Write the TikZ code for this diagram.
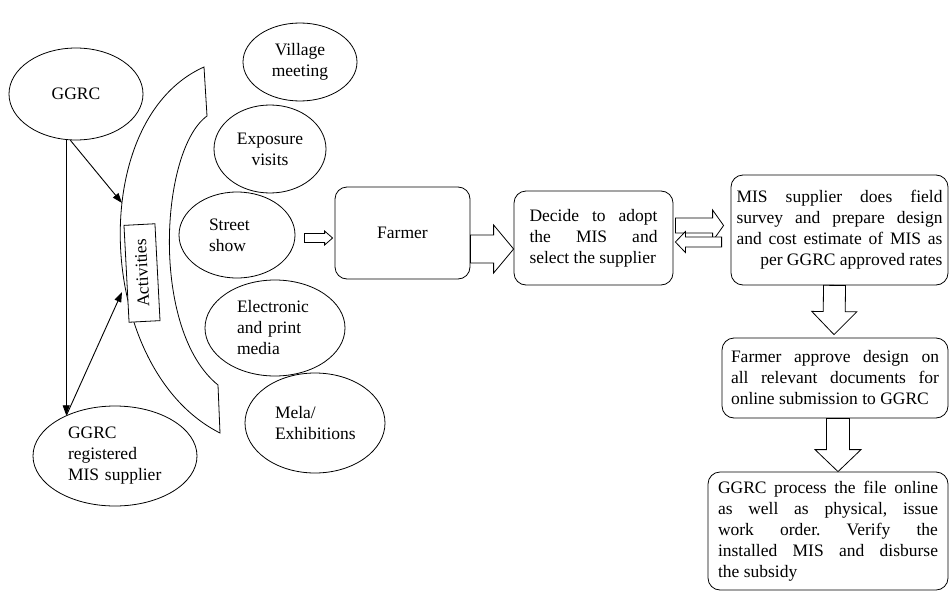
\documentclass[tikz,border=0pt]{standalone}
\usepackage{fontspec}
\setmainfont{Liberation Serif}
\usetikzlibrary{arrows.meta,calc,positioning,shapes.geometric}
\frenchspacing
\hyphenpenalty=10000
\exhyphenpenalty=10000

\tikzset{
  oval/.style={draw, ellipse, inner sep=0pt},
  stepbox/.style={draw, rounded corners=12pt, inner sep=0pt, align=justify},
  blockline/.style={draw, line width=0.8pt, fill=white, line join=miter},
  link/.style={-{Triangle[length=10pt,width=7pt]}, line width=0.9pt},
}
% hollow arrow: from, to, shaft half width, head half width, head length
\newcommand{\blockarrow}[5]{%
  \path (#1) coordinate (ba-s) (#2) coordinate (ba-e)
    ($(ba-e)!#5!(ba-s)$) coordinate (ba-h);
  \draw[blockline] ($(ba-s)!#3!90:(ba-e)$) -- ($(ba-h)!#3!-90:(ba-s)$)
    -- ($(ba-h)!#4!-90:(ba-s)$) -- (ba-e) -- ($(ba-h)!#4!90:(ba-s)$)
    -- ($(ba-h)!#3!90:(ba-s)$) -- ($(ba-s)!#3!-90:(ba-e)$) -- cycle;
}

\begin{document}
\begin{tikzpicture}[x=1pt, y=-1pt, line width=0.8pt,
    font=\fontsize{17.5}{21}\selectfont]
  \useasboundingbox (0,0) rectangle (949,591);

  \node (ggrc) [oval, minimum width=134, minimum height=92] at (76,94) {GGRC};
  \node (reg) [oval, minimum width=164, minimum height=100, text width=94, align=left]
    at (115,456) {GGRC\\registered\\MIS supplier};

  \draw (204,67) -- (207,116) .. controls (160,150) and (150,330) .. (218,385)
    -- (220,433) .. controls (95,370) and (85,120) .. (204,67) -- cycle;
  \node (act) [draw, fill=white, rotate=93, minimum width=97, minimum height=31, inner sep=0pt]
    at (142,273) {Activities};
  \coordinate (act-top) at (122,203);
  \coordinate (act-bot) at (122,292);

  \draw[link] (ggrc.-102) -- (ggrc.-102 |- reg.140);
  \draw[link] (ggrc.-97) -- (act-top);
  \draw[link] (reg.140) -- (act-bot);

  \node (village) [oval, minimum width=114, minimum height=78, align=center]
    at (300,62) {Village\\meeting};
  \node (visits) [oval, minimum width=112, minimum height=88, align=center]
    at (270,149) {Exposure\\visits};
  \node (show) [oval, minimum width=116, minimum height=86, text width=56, align=left]
    at (237,235) {Street\\show};
  \node (media) [oval, minimum width=140, minimum height=96, text width=76, align=left]
    at (275,328) {Electronic\\and print\\media};
  \node (mela) [oval, minimum width=140, minimum height=100, text width=80, align=left]
    at (315,423) {Mela/\\Exhibitions};

  \node (farmer) [stepbox, minimum width=135, minimum height=92, align=center]
    at (402.5,233) {Farmer};
  \node (decide) [stepbox, minimum width=159, minimum height=94, text width=128]
    at (593.5,238) {Decide to adopt\linebreak the MIS and\linebreak select the supplier};
  \node (mis) [stepbox, minimum width=217, minimum height=110, text width=206]
    at (839.5,230) {MIS supplier does field\linebreak survey and prepare design\linebreak
    and cost estimate of MIS as\linebreak\hspace*{\fill}per GGRC approved rates};
  \node (approve) [stepbox, minimum width=226, minimum height=80, text width=208]
    at (835,378) {Farmer approve design on\linebreak all relevant documents for\linebreak
    online submission to GGRC};
  \node (process) [stepbox, minimum width=240, minimum height=118, text width=220]
    at (828,531) {GGRC process the file online\linebreak as well as physical, issue\linebreak
    work order. Verify the\linebreak installed MIS and disburse\linebreak the subsidy};

  \blockarrow{$(show.east)+(9,3)$}{$(farmer.west)+(-2,5)$}{4.5pt}{7pt}{8pt}
  \blockarrow{$(farmer.east)+(0,16)$}{$(decide.west)+(0,11)$}{14pt}{24pt}{20pt}
  \blockarrow{$(decide.east)+(2,-12.5)$}{$(mis.west)+(-7,-4.5)$}{7.5pt}{15.5pt}{11pt}
  \blockarrow{$(mis.west)+(-9,12)$}{$(decide.east)+(2,4)$}{5pt}{10.5pt}{10pt}
  \blockarrow{$(mis.south)+(-5,0)$}{$(approve.north)+(-1,-3)$}{11pt}{22.5pt}{23pt}
  \blockarrow{$(approve.south)+(3,0)$}{$(process.north)+(10,0)$}{11.5pt}{23pt}{22pt}
\end{tikzpicture}
\end{document}
